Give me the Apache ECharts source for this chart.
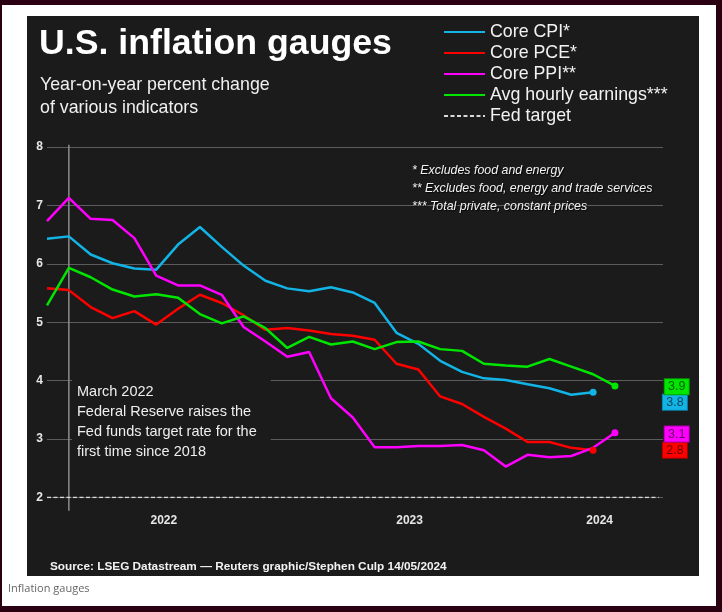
<!DOCTYPE html>
<html>
<head>
<meta charset="utf-8">
<script src="https://cdn.jsdelivr.net/npm/echarts@6/dist/echarts.min.js"></script>
<style>
html,body{margin:0;padding:0;width:722px;height:612px;background:#2b0012;overflow:hidden}
#white{position:absolute;left:2px;top:5px;width:714px;height:601px;background:#ffffff}
#panel{position:absolute;left:27px;top:16px;width:672px;height:560px;background:#1b1b1b}
#chart{position:absolute;left:0;top:0;width:722px;height:612px}
</style>
</head>
<body>
<div id="white"></div>
<div id="panel"></div>
<div id="chart"></div>
<script>
// Months: Feb 2022 .. Apr 2024 (index 0..26)
const months = ['Feb 2022','Mar 2022','Apr 2022','May 2022','Jun 2022','Jul 2022','Aug 2022','Sep 2022','Oct 2022','Nov 2022','Dec 2022',
  'Jan 2023','Feb 2023','Mar 2023','Apr 2023','May 2023','Jun 2023','Jul 2023','Aug 2023','Sep 2023','Oct 2023','Nov 2023','Dec 2023',
  'Jan 2024','Feb 2024','Mar 2024','Apr 2024'];
const coreCPI = [6.43,6.47,6.16,6.01,5.92,5.90,6.33,6.63,6.29,5.97,5.71,5.58,5.53,5.60,5.51,5.33,4.82,4.63,4.34,4.15,4.04,4.01,3.94,3.87,3.76,3.80];
const corePCE = [5.58,5.55,5.26,5.07,5.19,4.96,5.23,5.47,5.33,5.12,4.87,4.90,4.86,4.80,4.77,4.70,4.29,4.19,3.73,3.60,3.38,3.18,2.95,2.95,2.85,2.81];
const corePPI = [6.73,7.13,6.77,6.75,6.44,5.80,5.63,5.63,5.47,4.92,4.67,4.41,4.49,3.70,3.37,2.86,2.86,2.88,2.88,2.90,2.81,2.53,2.73,2.69,2.71,2.85,3.11];
const avgHourly = [5.29,5.93,5.77,5.56,5.44,5.48,5.42,5.14,4.98,5.10,4.90,4.56,4.75,4.62,4.67,4.54,4.66,4.67,4.54,4.51,4.29,4.26,4.24,4.37,4.24,4.11,3.91];
const fedTarget = 2;
const fedHikeMonth = months.indexOf('Mar 2022');
const yearLabels = ['2022','2023','2024'];
const yearLabelPos = [5.35, 16.6, 25.3];
const yTicks = [2,3,4,5,6,7,8];

const FONT = "'Liberation Sans', Arial, Helvetica, sans-serif";

function toPairs(arr){
  return arr.map((v,i)=>{
    if(i===arr.length-1) return {value:[i,v], symbol:'circle', symbolSize:7};
    return [i,v];
  });
}
function lineSeries(name, arr, color, border, offset){
  return {
    name, type:'line', data: toPairs(arr), symbol:'none', showSymbol:true, showAllSymbol:true,
    lineStyle:{color, width:2.5}, itemStyle:{color}, z:3,
    emphasis:{disabled:true}, animation:false,
    endLabel:{
      show:true, offset, distance:8,
      formatter:(p)=>p.value[1].toFixed(1),
      backgroundColor:color, borderColor:border, borderWidth:1,
      width:24, height:15, lineHeight:15, align:'center', verticalAlign:'middle',
      padding:0, color:'rgba(0,0,0,0.62)', fontSize:12.5, fontFamily:FONT
    }
  };
}

const chart = echarts.init(document.getElementById('chart'), null, {renderer:'canvas'});
chart.setOption({
  backgroundColor:'transparent',
  animation:false,
  textStyle:{fontFamily:FONT},
  title:[
    {text:'U.S. inflation gauges', left:39, top:26, padding:0,
      textStyle:{color:'#ffffff', fontSize:35.7, fontWeight:'bold', fontFamily:FONT}},
    {text:'Year-on-year percent change\nof various indicators', left:40, top:73, padding:0,
      textStyle:{color:'#f0f0f0', fontSize:17.8, fontWeight:'normal', lineHeight:23.6, fontFamily:FONT}},
    {text:'* Excludes food and energy\n** Excludes food, energy and trade services\n*** Total private, constant prices',
      left:412, top:162, padding:0,
      textStyle:{color:'#f2f2f2', fontSize:12.4, fontStyle:'italic', fontWeight:'normal', lineHeight:18, fontFamily:FONT,
        textShadowColor:'rgba(0,0,0,0.8)', textShadowBlur:1, textShadowOffsetX:1, textShadowOffsetY:1}},
    {text:'March 2022\nFederal Reserve raises the\nFed funds target rate for the\nfirst time since 2018',
      left:72, top:375, padding:[7,14,10,5], backgroundColor:'#1b1b1b',
      textStyle:{color:'#eeeeee', fontSize:14.5, fontWeight:'normal', lineHeight:20, fontFamily:FONT}},
    {text:'Source: LSEG Datastream \u2014 Reuters graphic/Stephen Culp 14/05/2024', left:50, top:561, padding:0,
      textStyle:{color:'#f2f2f2', fontSize:11.8, fontWeight:'bold', fontFamily:FONT}},
    {text:'Inflation gauges', left:8, top:583, padding:0,
      textStyle:{color:'#666666', fontSize:11, fontWeight:'normal', fontFamily:"'Open Sans', 'Noto Sans', sans-serif"}}
  ],
  legend:{
    orient:'vertical', left:443, top:23, padding:0, itemGap:3,
    itemWidth:41, itemHeight:14,
    itemStyle:{opacity:0},
    data:['Core CPI*','Core PCE*','Core PPI**','Avg hourly earnings***','Fed target'],
    textStyle:{color:'#f2f2f2', fontSize:17.8, fontFamily:FONT},
    selectedMode:false
  },
  grid:{left:47, top:147, right:59, bottom:114.5, containLabel:false},
  xAxis:{
    type:'value', min:0, max:28.2,
    axisLine:{show:false}, axisTick:{show:false}, splitLine:{show:false},
    axisLabel:{
      customValues: yearLabelPos,
      formatter:(v)=>{ const k = yearLabelPos.findIndex(p=>Math.abs(p-v)<1e-6); return k>=0 ? yearLabels[k] : ''; },
      color:'#e6e6e6', fontSize:12, fontWeight:'bold', margin:17, fontFamily:FONT
    }
  },
  yAxis:{
    type:'value', min:yTicks[0], max:yTicks[yTicks.length-1], interval:1,
    axisLine:{show:false}, axisTick:{show:false},
    splitLine:{show:true, lineStyle:{color:'#5c5c5c', width:1}},
    axisLabel:{color:'#e6e6e6', fontSize:12, fontWeight:'bold', margin:4, fontFamily:FONT}
  },
  series:[
    {name:'Fed hike marker', type:'line', data:[[fedHikeMonth,1.774],[fedHikeMonth,8.04]], symbol:'none', clip:false,
      lineStyle:{color:'#8c8c8c', width:1.5}, silent:true, z:1, animation:false},
    {name:'Fed target', type:'line', data:[[0,fedTarget],[28,fedTarget]], symbol:'none',
      lineStyle:{color:'#d9d9d9', width:1.5, type:[4,2.5]}, itemStyle:{color:'#d9d9d9'}, silent:true, z:2, animation:false},
    lineSeries('Core CPI*', coreCPI, '#12b4e6', '#0a86ad', [73.8, 10]),
    lineSeries('Core PCE*', corePCE, '#ff0000', '#b00000', [73.8, 0]),
    lineSeries('Core PPI**', corePPI, '#ff00ff', '#b000b0', [53.8, 1.4]),
    lineSeries('Avg hourly earnings***', avgHourly, '#00e600', '#00a000', [53.8, 0.8])
  ]
});
</script>
</body>
</html>
